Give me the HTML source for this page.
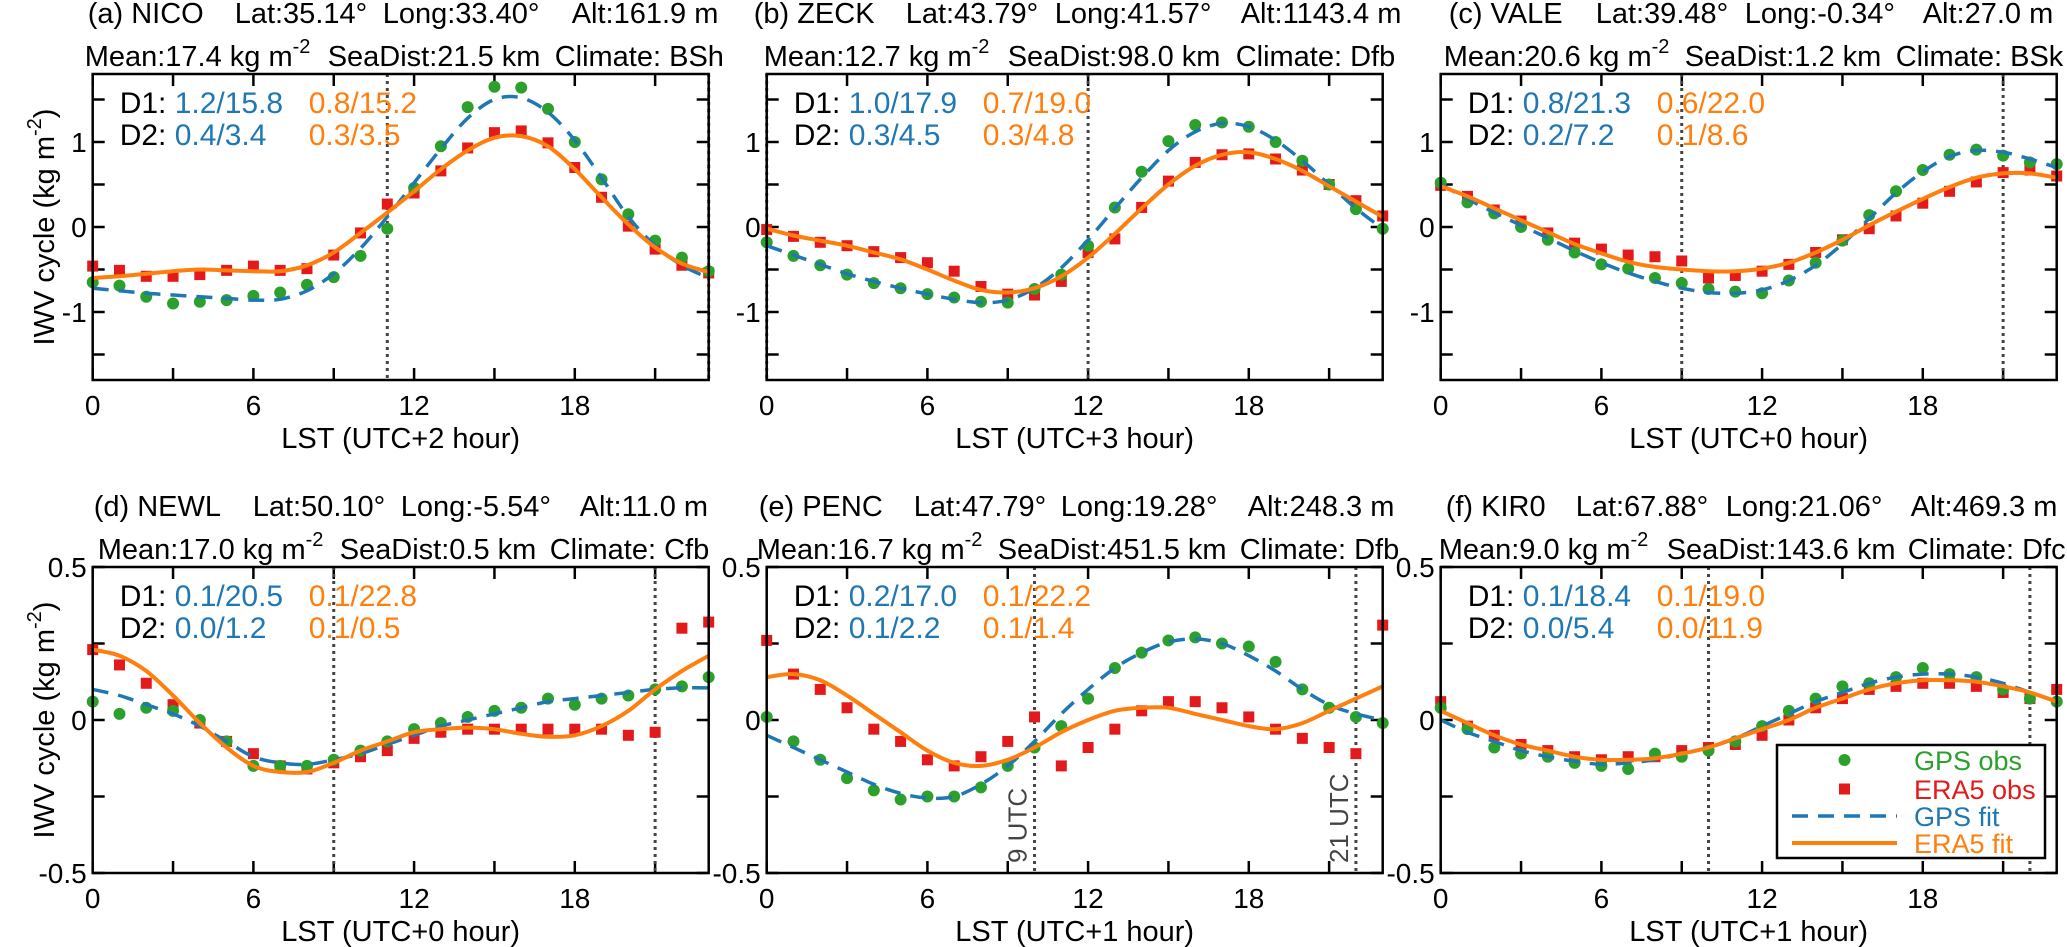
<!DOCTYPE html>
<html><head><meta charset="utf-8"><style>
html,body{margin:0;padding:0;background:#fff}
svg{display:block;font-family:"Liberation Sans",Arial,sans-serif}
</style></head><body>
<svg id="fig" width="2067" height="947" viewBox="0 0 2067 947" xmlns="http://www.w3.org/2000/svg"></svg>
<script>
const hours=[0,1,2,3,4,5,6,7,8,9,10,11,12,13,14,15,16,17,18,19,20,21,22,23];
const xTickLabels=['0','6','12','18'];
const yTicksTop=[-1,0,1];
const yTickLabelsTop=['-1','0','1'];
const yTicksBot=[-0.5,0,0.5];
const yTickLabelsBot=['-0.5','0','0.5'];

const gpsObsA=[-0.65,-0.69,-0.82,-0.9,-0.88,-0.86,-0.81,-0.77,-0.68,-0.59,-0.34,-0.02,0.46,0.95,1.41,1.65,1.64,1.39,1.0,0.56,0.15,-0.16,-0.36,-0.52];
const era5ObsA=[-0.46,-0.51,-0.58,-0.58,-0.56,-0.51,-0.46,-0.51,-0.49,-0.33,-0.07,0.27,0.4,0.66,0.93,1.11,1.13,0.99,0.7,0.35,0.01,-0.26,-0.45,-0.54];
const gpsFitA=[-0.72,-0.75,-0.78,-0.8,-0.82,-0.84,-0.86,-0.85,-0.75,-0.55,-0.25,0.12,0.52,0.92,1.28,1.5,1.52,1.35,1.02,0.58,0.12,-0.22,-0.45,-0.6];
const era5FitA=[-0.6,-0.58,-0.55,-0.52,-0.5,-0.51,-0.52,-0.52,-0.45,-0.3,-0.07,0.17,0.42,0.68,0.9,1.05,1.07,0.95,0.68,0.35,0.03,-0.24,-0.43,-0.53];

const gpsObsB=[-0.18,-0.34,-0.45,-0.56,-0.66,-0.72,-0.79,-0.83,-0.88,-0.89,-0.73,-0.56,-0.22,0.23,0.65,1.01,1.2,1.23,1.18,1.0,0.78,0.5,0.21,-0.02];
const era5ObsB=[-0.03,-0.11,-0.18,-0.22,-0.29,-0.36,-0.42,-0.52,-0.7,-0.79,-0.8,-0.64,-0.3,-0.14,0.23,0.54,0.76,0.85,0.86,0.8,0.67,0.5,0.31,0.13];
const gpsFitB=[-0.22,-0.33,-0.44,-0.55,-0.64,-0.72,-0.79,-0.85,-0.89,-0.86,-0.72,-0.48,-0.15,0.22,0.58,0.9,1.12,1.22,1.18,1.02,0.78,0.5,0.22,-0.02];
const era5FitB=[-0.02,-0.1,-0.16,-0.22,-0.3,-0.38,-0.5,-0.63,-0.74,-0.77,-0.72,-0.58,-0.36,-0.08,0.22,0.5,0.72,0.85,0.88,0.8,0.66,0.48,0.3,0.12];

const gpsObsC=[0.52,0.29,0.16,0.0,-0.15,-0.3,-0.44,-0.49,-0.6,-0.66,-0.73,-0.76,-0.78,-0.63,-0.42,-0.16,0.14,0.42,0.67,0.85,0.91,0.84,0.76,0.74];
const era5ObsC=[0.49,0.36,0.2,0.07,-0.07,-0.19,-0.26,-0.33,-0.35,-0.4,-0.6,-0.57,-0.52,-0.44,-0.3,-0.15,-0.02,0.13,0.28,0.42,0.53,0.64,0.67,0.6];
const gpsFitC=[0.5,0.33,0.17,0.02,-0.13,-0.28,-0.42,-0.54,-0.64,-0.72,-0.77,-0.78,-0.74,-0.63,-0.45,-0.2,0.1,0.4,0.65,0.83,0.9,0.88,0.8,0.7];
const era5FitC=[0.48,0.36,0.22,0.08,-0.06,-0.2,-0.31,-0.41,-0.47,-0.5,-0.52,-0.52,-0.49,-0.42,-0.3,-0.15,0.02,0.18,0.33,0.47,0.58,0.63,0.63,0.58];

const gpsObsD=[0.06,0.02,0.04,0.03,0,-0.07,-0.15,-0.15,-0.15,-0.13,-0.1,-0.07,-0.03,-0.01,0.01,0.03,0.04,0.07,0.05,0.07,0.08,0.1,0.11,0.14];
const era5ObsD=[0.23,0.18,0.12,0.05,-0.01,-0.07,-0.11,-0.15,-0.16,-0.14,-0.12,-0.1,-0.06,-0.04,-0.03,-0.03,-0.03,-0.03,-0.03,-0.03,-0.05,-0.04,0.3,0.32];
const gpsFitD=[0.1,0.08,0.05,0.02,-0.02,-0.07,-0.12,-0.14,-0.145,-0.13,-0.11,-0.08,-0.05,-0.02,0.0,0.02,0.04,0.06,0.07,0.08,0.09,0.1,0.105,0.105];
const era5FitD=[0.23,0.21,0.16,0.08,-0.01,-0.09,-0.15,-0.17,-0.17,-0.14,-0.1,-0.07,-0.04,-0.03,-0.025,-0.03,-0.045,-0.055,-0.05,-0.02,0.03,0.1,0.16,0.21];

const gpsObsE=[0.01,-0.07,-0.13,-0.19,-0.23,-0.26,-0.25,-0.25,-0.22,-0.15,-0.09,-0.02,0.07,0.17,0.22,0.26,0.27,0.25,0.24,0.19,0.1,0.04,0.01,-0.01];
const era5ObsE=[0.26,0.15,0.1,0.04,-0.03,-0.07,-0.13,-0.15,-0.12,-0.07,0.01,-0.15,-0.09,-0.03,0.03,0.06,0.06,0.04,0.01,-0.03,-0.06,-0.09,-0.11,0.31];
const gpsFitE=[-0.05,-0.09,-0.13,-0.17,-0.21,-0.24,-0.255,-0.25,-0.21,-0.15,-0.07,0.02,0.1,0.17,0.22,0.255,0.265,0.25,0.21,0.16,0.1,0.05,0.02,0.0];
const era5FitE=[0.14,0.15,0.13,0.08,0.02,-0.04,-0.1,-0.14,-0.15,-0.13,-0.09,-0.04,0.0,0.03,0.04,0.04,0.02,0.0,-0.02,-0.03,-0.01,0.03,0.07,0.11];

const gpsObsF=[0.04,-0.03,-0.09,-0.11,-0.12,-0.14,-0.15,-0.16,-0.11,-0.12,-0.1,-0.07,-0.02,0.03,0.07,0.11,0.12,0.14,0.17,0.15,0.14,0.1,0.07,0.06];
const era5ObsF=[0.06,-0.02,-0.05,-0.08,-0.1,-0.12,-0.13,-0.12,-0.12,-0.1,-0.09,-0.08,-0.05,0.0,0.04,0.07,0.1,0.11,0.12,0.12,0.11,0.09,0.07,0.1];
const gpsFitF=[0.0,-0.04,-0.07,-0.1,-0.12,-0.135,-0.145,-0.14,-0.13,-0.11,-0.09,-0.06,-0.02,0.02,0.06,0.09,0.12,0.14,0.15,0.15,0.14,0.12,0.09,0.06];
const era5FitF=[0.03,-0.01,-0.05,-0.08,-0.1,-0.12,-0.13,-0.13,-0.125,-0.11,-0.09,-0.06,-0.03,0.0,0.04,0.07,0.1,0.12,0.13,0.13,0.125,0.11,0.09,0.06];

const NS='http://www.w3.org/2000/svg';
const svg=document.getElementById('fig');
function mk(tag,attrs,parent){const e=document.createElementNS(NS,tag);for(const k in attrs)e.setAttribute(k,attrs[k]);(parent||svg).appendChild(e);return e;}

const W=616,H=306;
const panels=[
 {id:'a',L:92.7,T:74,row:0,title:['(a) NICO','Lat:35.14°','Long:33.40°','Alt:161.9 m'],tOff:[-5,142,290,479],mean:'17.4',sea:'SeaDist:21.5 km',clim:'Climate: BSh',mOff:[-8,235,462],d1:['1.2/15.8','0.8/15.2'],d2:['0.4/3.4','0.3/3.5'],utc:'LST (UTC+2 hour)',dots:[11,23],g:gpsObsA,e:era5ObsA,gf:gpsFitA,ef:era5FitA},
 {id:'b',L:766.7,T:74,row:0,title:['(b) ZECK','Lat:43.79°','Long:41.57°','Alt:1143.4 m'],tOff:[-13,139,288,474],mean:'12.7',sea:'SeaDist:98.0 km',clim:'Climate: Dfb',mOff:[-3,241,469],d1:['1.0/17.9','0.7/19.0'],d2:['0.3/4.5','0.3/4.8'],utc:'LST (UTC+3 hour)',dots:[0,12],g:gpsObsB,e:era5ObsB,gf:gpsFitB,ef:era5FitB},
 {id:'c',L:1440.7,T:74,row:0,title:['(c) VALE','Lat:39.48°','Long:-0.34°','Alt:27.0 m'],tOff:[8,155,304,482],mean:'20.6',sea:'SeaDist:1.2 km',clim:'Climate: BSk',mOff:[3,244,455],d1:['0.8/21.3','0.6/22.0'],d2:['0.2/7.2','0.1/8.6'],utc:'LST (UTC+0 hour)',dots:[9,21],g:gpsObsC,e:era5ObsC,gf:gpsFitC,ef:era5FitC},
 {id:'d',L:92.7,T:567,row:1,title:['(d) NEWL','Lat:50.10°','Long:-5.54°','Alt:11.0 m'],tOff:[1,160,308,487],mean:'17.0',sea:'SeaDist:0.5 km',clim:'Climate: Cfb',mOff:[5,247,457],d1:['0.1/20.5','0.1/22.8'],d2:['0.0/1.2','0.1/0.5'],utc:'LST (UTC+0 hour)',dots:[9,21],g:gpsObsD,e:era5ObsD,gf:gpsFitD,ef:era5FitD},
 {id:'e',L:766.7,T:567,row:1,title:['(e) PENC','Lat:47.79°','Long:19.28°','Alt:248.3 m'],tOff:[-8,147,294,481],mean:'16.7',sea:'SeaDist:451.5 km',clim:'Climate: Dfb',mOff:[-10,231,473],d1:['0.2/17.0','0.1/22.2'],d2:['0.1/2.2','0.1/1.4'],utc:'LST (UTC+1 hour)',dots:[10,22],g:gpsObsE,e:era5ObsE,gf:gpsFitE,ef:era5FitE},
 {id:'f',L:1440.7,T:567,row:1,title:['(f) KIR0','Lat:67.88°','Long:21.06°','Alt:469.3 m'],tOff:[5,135,285,470],mean:'9.0',sea:'SeaDist:143.6 km',clim:'Climate: Dfc',mOff:[-2,226,467],d1:['0.1/18.4','0.1/19.0'],d2:['0.0/5.4','0.0/11.9'],utc:'LST (UTC+1 hour)',dots:[10,22],g:gpsObsF,e:era5ObsF,gf:gpsFitF,ef:era5FitF}
];
const BLUE='#1f77b4',ORANGE='#ff7f0e',GREEN='#2ca02c',RED='#e31a1c';

function smoothPath(pts){
 let d='M'+pts[0][0].toFixed(1)+','+pts[0][1].toFixed(1);
 for(let i=0;i<pts.length-1;i++){
  const p0=pts[Math.max(0,i-1)],p1=pts[i],p2=pts[i+1],p3=pts[Math.min(pts.length-1,i+2)];
  const c1x=p1[0]+(p2[0]-p0[0])/6,c1y=p1[1]+(p2[1]-p0[1])/6;
  const c2x=p2[0]-(p3[0]-p1[0])/6,c2y=p2[1]-(p3[1]-p1[1])/6;
  d+=' C'+c1x.toFixed(1)+','+c1y.toFixed(1)+' '+c2x.toFixed(1)+','+c2y.toFixed(1)+' '+p2[0].toFixed(1)+','+p2[1].toFixed(1);
 }
 return d;
}

panels.forEach(p=>{
 const top=p.row===0;
 const ymax=top?1.8:0.5, ymin=-ymax;
 const xs=h=>p.L+h/23*W;
 const ys=v=>p.T+(ymax-v)/(ymax-ymin)*H;
 const g=mk('g',{});
 
 
 p.title.forEach((t,i)=>{
  const el=mk('text',{x:p.L+p.tOff[i],y:p.T-51,'font-size':29,fill:'#000'},g);
  el.textContent=t;
  
  
 });
 const m=mk('text',{x:p.L+p.mOff[0],y:p.T-8,'font-size':29,fill:'#000'},g);
 
 
 const t1=mk('tspan',{},m);t1.textContent='Mean:'+p.mean+' kg m';
 const t2=mk('tspan',{dy:-13,'font-size':20},m);t2.textContent='-2';
 const s=mk('text',{x:p.L+p.mOff[1],y:p.T-8,'font-size':29},g);s.textContent=p.sea;
 
 
 const c=mk('text',{x:p.L+p.mOff[2],y:p.T-8,'font-size':29},g);c.textContent=p.clim;
 
 
 for(let h=0;h<=21;h+=3){
  const x=xs(h);
  mk('line',{x1:x,x2:x,y1:p.T+H,y2:p.T+H-12,stroke:'#000','stroke-width':2.5},g);
  mk('line',{x1:x,x2:x,y1:p.T,y2:p.T+12,stroke:'#000','stroke-width':2.5},g);
 }
 xTickLabels.forEach(l=>{
  const el=mk('text',{x:xs(+l),y:p.T+H+35,'font-size':28,'text-anchor':'middle'},g);
  el.textContent=l;
  
  
 });
 const step=top?0.5:0.25;
 for(let v=ymin+(top?0.3:0);v<=ymax+1e-6;v+=step){
  const y=ys(v);
  mk('line',{x1:p.L,x2:p.L+12,y1:y,y2:y,stroke:'#000','stroke-width':2.5},g);
  mk('line',{x1:p.L+W,x2:p.L+W-12,y1:y,y2:y,stroke:'#000','stroke-width':2.5},g);
 }
 const yt=top?yTicksTop:yTicksBot, ytl=top?yTickLabelsTop:yTickLabelsBot;
 yt.forEach((v,i)=>{
  const el=mk('text',{x:p.L-6,y:ys(v)+10,'font-size':28,'text-anchor':'end'},g);
  el.textContent=ytl[i];
  
  
 });
 const xl=mk('text',{x:p.L+W/2,y:p.T+H+68,'font-size':29,'text-anchor':'middle'},g);
 xl.textContent=p.utc;
 
 
 if(p.id==='a'||p.id==='d'){
  const yl=mk('text',{x:0,y:0,'font-size':29,'text-anchor':'middle',transform:'translate(54,'+(p.T+H/2)+') rotate(-90)'},g);
  
  
  const a1=mk('tspan',{},yl);a1.textContent='IWV cycle (kg m';
  const a2=mk('tspan',{dy:-13,'font-size':20},yl);a2.textContent='-2';
  const a3=mk('tspan',{dy:13},yl);a3.textContent=')';
 }
 p.dots.forEach(h=>{
  const l=mk('line',{x1:xs(h),x2:xs(h),y1:p.T,y2:p.T+H,stroke:'#444','stroke-width':3,'stroke-dasharray':'3 4'},g);
  
  
 });
 if(p.id==='e'){
  [['9 UTC',p.dots[0]],['21 UTC',p.dots[1]]].forEach(([t,h])=>{
   const el=mk('text',{x:0,y:0,'font-size':26,fill:'#444',transform:'translate('+(xs(h)-8)+','+(p.T+H-10)+') rotate(-90)'},g);
   el.textContent=t;
   
   
  });
 }
 const dg2=mk('g',{},g);
 p.e.forEach((v,i)=>{
  const r=mk('rect',{x:xs(hours[i])-5.5,y:ys(v)-5.5,width:11,height:11,fill:RED},dg2);
  
  
 });
 p.g.forEach((v,i)=>{
  const ci=mk('circle',{cx:xs(hours[i]),cy:ys(v),r:6,fill:GREEN},dg2);
  
  
 });
 const gp=mk('path',{d:smoothPath(p.gf.map((v,i)=>[xs(hours[i]),ys(v)])),fill:'none',stroke:BLUE,'stroke-width':3.5,'stroke-dasharray':'16 10'},dg2);
 
 
 const ep=mk('path',{d:smoothPath(p.ef.map((v,i)=>[xs(hours[i]),ys(v)])),fill:'none',stroke:ORANGE,'stroke-width':4},dg2);
 
 
 const fr=mk('rect',{x:p.L,y:p.T,width:W,height:H,fill:'none',stroke:'#000','stroke-width':2.5},g);
 
 
 [[p.d1,'D1:',39],[p.d2,'D2:',71]].forEach(([vals,lab,dy])=>{
  const a=mk('text',{x:p.L+27,y:p.T+dy,'font-size':30,fill:'#000'},g);a.textContent=lab;
  
  
  const b=mk('text',{x:p.L+82,y:p.T+dy,'font-size':30,fill:BLUE},g);b.textContent=vals[0];
  
  
  const o=mk('text',{x:p.L+216,y:p.T+dy,'font-size':30,fill:ORANGE},g);o.textContent=vals[1];
  
  
 });
});

const lg=mk('g',{});


mk('rect',{x:1777,y:745,width:268,height:113,fill:'#fff',stroke:'#000','stroke-width':2.5},lg);
const items=[['GPS obs',GREEN,'c',760],['ERA5 obs',RED,'s',789],['GPS fit',BLUE,'d',816],['ERA5 fit',ORANGE,'l',843]];
items.forEach(([t,col,k,y])=>{
 if(k==='c')mk('circle',{cx:1844.5,cy:y,r:6,fill:col},lg);
 if(k==='s')mk('rect',{x:1839,y:y-5.5,width:11,height:11,fill:col},lg);
 if(k==='d')mk('line',{x1:1792,x2:1897,y1:y,y2:y,stroke:col,'stroke-width':3.5,'stroke-dasharray':'16 10'},lg);
 if(k==='l')mk('line',{x1:1792,x2:1897,y1:y,y2:y,stroke:col,'stroke-width':4},lg);
 const el=mk('text',{x:1914,y:y+10,'font-size':27,fill:col},lg);
 el.textContent=t;
 
 
});
</script>
</body></html>
